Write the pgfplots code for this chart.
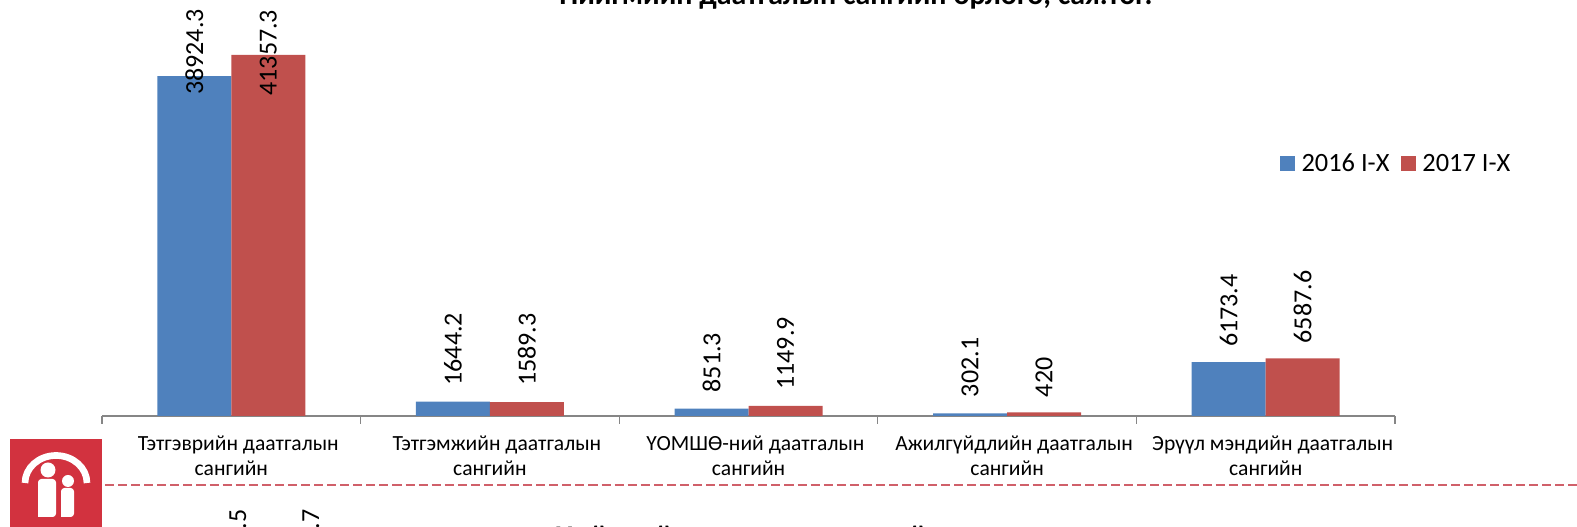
\documentclass[border=0pt]{standalone}
\usepackage{pgfplots}
\usepackage{pgfplotstable}
\pgfplotsset{compat=1.18}
\usepackage{fontspec}
\setmainfont{Carlito}
\definecolor{sblue}{HTML}{4F81BD}
\definecolor{sred}{HTML}{C0504D}
\definecolor{logored}{HTML}{D2323F}
\definecolor{dashred}{HTML}{D0606A}
\definecolor{axgray}{HTML}{868686}
\newcommand{\lsp}{\hspace*{10.5pt}}
\pgfplotstableread{
x a offa
0 38924.3 -14.25
1 1644.2 12
2 851.3 12
3 302.1 12
4 6173.4 11.25
}\tablea
\pgfplotstableread{
x b offb
0 41357.3 -30.75
1 1589.3 12
2 1149.9 12
3 420 11.25
4 6587.6 11.25
}\tableb
\begin{document}
\begin{tikzpicture}[x=0.75pt,y=0.75pt]
\useasboundingbox (0,0) rectangle (1577,527);
\clip (0,0) rectangle (1577,527);
% logo
\fill[logored] (10,0) rectangle (102,88);
\draw[white,line width=5pt] (25,44) arc[start angle=180,end angle=0,x radius=31,y radius=27.5];
\fill[white] (48,57) circle (7.5);
\fill[white] (68,46) circle (6);
\fill[white,rounded corners=2.5pt] (38,10) -- (38,48) -- (56,48) -- (56,10) [sharp corners] -- cycle;
\fill[white,rounded corners=2.5pt] (61,10) -- (61,39) -- (74,39) -- (74,10) [sharp corners] -- cycle;
\draw[dashred,dash pattern=on 6.8pt off 3pt,line width=1.1pt] (105,42) -- (1577,42);
% title, cut off by the top edge
\node[font=\bfseries\fontsize{22.4}{26}\selectfont,anchor=base] at (856,522) {Нийгмийн даатгалын сангийн орлого, сая.төг.};
% texts of the next chart, cut off by the bottom edge
\node[font=\fontsize{19.5}{23}\selectfont,rotate=90,anchor=east,inner sep=0pt] at (238,18) {.5};
\node[font=\fontsize{19.5}{23}\selectfont,rotate=90,anchor=east,inner sep=0pt] at (311,18) {.7};
\node[font=\bfseries\fontsize{22.4}{26}\selectfont,anchor=north,inner sep=0pt] at (856,1.3) {Нийгмийн даатгалын сангийн зарлага, сая.төг.};
\begin{axis}[
  at={(76.5pt,83.25pt)},anchor=south west,
  width=969.75pt,height=294.75pt,scale only axis,
  xmin=-0.5,xmax=4.5,ymin=0,ymax=45000,
  clip=false,
  axis x line=bottom,axis y line=none,
  axis line style={draw=axgray,line width=1.1pt,-},
  xtick={0,1,2,3,4},
  xticklabels={{\lsp Тэтгэврийн даатгалын\\сангийн},{\lsp Тэтгэмжийн даатгалын\\сангийн},{\lsp ҮОМШӨ-ний даатгалын\\сангийн},{\lsp Ажилгүйдлийн даатгалын\\сангийн},{\lsp Эрүүл мэндийн даатгалын\\сангийн}},
  minor xtick={-0.5,0.5,1.5,2.5,3.5,4.5},
  major tick length=0pt,
  minor tick length=5.8pt,
  minor tick style={draw=axgray,line width=0.8pt},
  tick align=outside,
  x tick label style={font=\fontsize{16.2}{19}\selectfont,align=center,yshift=-11.5pt},
  ybar=0pt,
  bar width=55.5pt,
  legend columns=2,
  legend style={at={(0.911,0.642)},anchor=west,draw=none,fill=none,inner sep=0pt,outer sep=0pt,
    font=\fontsize{19.8}{23}\selectfont,
    /tikz/column 1/.style={column sep=3pt},
    /tikz/column 2/.style={column sep=6.5pt},
    /tikz/column 3/.style={column sep=3pt}},
  legend image code/.code={\fill[#1] (0pt,-5.6pt) rectangle (11.2pt,5.6pt);},
]
\addplot[fill=sblue,draw=none,
  point meta=explicit symbolic,
  visualization depends on={\thisrow{offa}\as\off},
  nodes near coords,
  nodes near coords style={font=\fontsize{19.5}{23}\selectfont,yshift=\off pt,rotate=90,anchor=west,inner sep=0pt,text=black}]
  table[x=x,y=a,meta=a]{\tablea};
\addplot[fill=sred,draw=none,
  point meta=explicit symbolic,
  visualization depends on={\thisrow{offb}\as\off},
  nodes near coords,
  nodes near coords style={font=\fontsize{19.5}{23}\selectfont,yshift=\off pt,rotate=90,anchor=west,inner sep=0pt,text=black}]
  table[x=x,y=b,meta=b]{\tableb};
\legend{2016 I-X,2017 I-X}
\end{axis}
\end{tikzpicture}
\end{document}
